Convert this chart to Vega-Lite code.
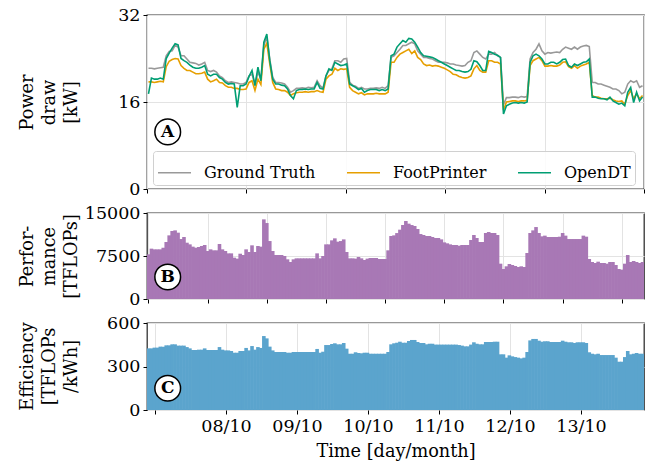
{
  "$schema": "https://vega.github.io/schema/vega-lite/v6.json",
  "background": "white",
  "padding": {"left": 17, "top": 5, "right": 5, "bottom": 5},
  "spacing": 24,
  "bounds": "flush",
  "config": {
    "font": "DejaVu Serif",
    "view": {"stroke": "#333333", "strokeWidth": 1.3},
    "axis": {
      "labelFont": "DejaVu Serif", "labelFontSize": 17.5, "labelColor": "#000000",
      "titleFont": "DejaVu Serif", "titleFontSize": 17.7, "titleFontWeight": "normal", "titleColor": "#000000",
      "tickColor": "#000000", "tickSize": 4, "domain": false,
      "gridColor": "#e3e3e3", "gridWidth": 1, "labelPadding": 3
    },
    "axisY": {"titleAngle": -90, "titleAlign": "center", "titleBaseline": "alphabetic", "titleX": -115, "titleLineHeight": 22}
  },
  "datasets": {
    "hourly": [
      {"h":0,"gt":22.2,"fp":19.7,"od":17.5,"perf":7790,"eff":425},
      {"h":1,"gt":22.2,"fp":19.7,"od":20.4,"perf":8780,"eff":425},
      {"h":2,"gt":22.1,"fp":19.6,"od":20.2,"perf":8660,"eff":430},
      {"h":3,"gt":22.2,"fp":19.7,"od":20.2,"perf":8660,"eff":430},
      {"h":4,"gt":22.3,"fp":19.8,"od":20.4,"perf":8660,"eff":437},
      {"h":5,"gt":22.4,"fp":19.7,"od":20.2,"perf":8950,"eff":437},
      {"h":6,"gt":24.5,"fp":22.5,"od":24.0,"perf":9940,"eff":446},
      {"h":7,"gt":25.3,"fp":23.5,"od":25.0,"perf":11100,"eff":446},
      {"h":8,"gt":25.4,"fp":23.8,"od":25.9,"perf":11860,"eff":453},
      {"h":9,"gt":26.4,"fp":24.0,"od":26.7,"perf":11970,"eff":453},
      {"h":10,"gt":26.1,"fp":23.9,"od":26.5,"perf":11570,"eff":444},
      {"h":11,"gt":24.5,"fp":22.7,"od":24.0,"perf":10460,"eff":444},
      {"h":12,"gt":24.5,"fp":22.2,"od":23.6,"perf":10810,"eff":444},
      {"h":13,"gt":23.9,"fp":21.8,"od":23.3,"perf":9820,"eff":434},
      {"h":14,"gt":23.3,"fp":21.8,"od":22.8,"perf":9530,"eff":425},
      {"h":15,"gt":23.2,"fp":21.5,"od":22.4,"perf":9130,"eff":414},
      {"h":16,"gt":23.1,"fp":21.2,"od":22.2,"perf":8950,"eff":414},
      {"h":17,"gt":22.8,"fp":21.2,"od":22.2,"perf":9070,"eff":416},
      {"h":18,"gt":23.0,"fp":21.3,"od":22.4,"perf":9240,"eff":416},
      {"h":19,"gt":23.3,"fp":21.5,"od":22.7,"perf":9420,"eff":425},
      {"h":20,"gt":21.8,"fp":20.2,"od":21.1,"perf":8370,"eff":414},
      {"h":21,"gt":21.6,"fp":19.7,"od":20.8,"perf":8660,"eff":414},
      {"h":22,"gt":21.8,"fp":19.9,"od":21.1,"perf":8490,"eff":414},
      {"h":23,"gt":21.5,"fp":20.2,"od":21.1,"perf":8490,"eff":414},
      {"h":24,"gt":20.8,"fp":19.6,"od":20.5,"perf":9590,"eff":434},
      {"h":25,"gt":20.5,"fp":19.5,"od":20.2,"perf":8660,"eff":416},
      {"h":26,"gt":19.9,"fp":19.0,"od":19.6,"perf":8370,"eff":411},
      {"h":27,"gt":19.6,"fp":18.7,"od":19.3,"perf":7960,"eff":411},
      {"h":28,"gt":19.7,"fp":18.7,"od":19.4,"perf":7960,"eff":407},
      {"h":29,"gt":19.6,"fp":18.5,"od":19.3,"perf":7210,"eff":395},
      {"h":30,"gt":19.5,"fp":18.5,"od":15.0,"perf":7040,"eff":395},
      {"h":31,"gt":19.3,"fp":18.3,"od":19.0,"perf":7900,"eff":407},
      {"h":32,"gt":19.3,"fp":18.3,"od":19.0,"perf":7670,"eff":407},
      {"h":33,"gt":19.6,"fp":18.4,"od":19.3,"perf":8660,"eff":428},
      {"h":34,"gt":20.8,"fp":19.6,"od":20.7,"perf":8200,"eff":411},
      {"h":35,"gt":21.1,"fp":19.9,"od":21.8,"perf":9360,"eff":441},
      {"h":36,"gt":19.3,"fp":18.1,"od":19.0,"perf":8200,"eff":416},
      {"h":37,"gt":21.5,"fp":20.2,"od":22.4,"perf":9240,"eff":434},
      {"h":38,"gt":20.2,"fp":19.2,"od":19.9,"perf":9130,"eff":428},
      {"h":39,"gt":26.4,"fp":25.7,"od":27.0,"perf":13890,"eff":510},
      {"h":40,"gt":28.0,"fp":26.8,"od":28.5,"perf":13250,"eff":494},
      {"h":41,"gt":23.9,"fp":23.0,"od":23.6,"perf":10110,"eff":437},
      {"h":42,"gt":20.5,"fp":19.6,"od":20.2,"perf":8370,"eff":411},
      {"h":43,"gt":19.6,"fp":18.4,"od":19.3,"perf":7670,"eff":400},
      {"h":44,"gt":19.6,"fp":18.3,"od":19.3,"perf":7670,"eff":400},
      {"h":45,"gt":19.5,"fp":18.1,"od":19.1,"perf":7670,"eff":400},
      {"h":46,"gt":19.3,"fp":18.1,"od":19.0,"perf":7500,"eff":400},
      {"h":47,"gt":18.7,"fp":17.8,"od":18.4,"perf":6920,"eff":395},
      {"h":48,"gt":17.8,"fp":17.2,"od":17.2,"perf":6450,"eff":395},
      {"h":49,"gt":18.1,"fp":17.5,"od":16.6,"perf":6920,"eff":400},
      {"h":50,"gt":18.5,"fp":17.7,"od":18.1,"perf":7090,"eff":400},
      {"h":51,"gt":18.5,"fp":17.8,"od":18.3,"perf":7090,"eff":400},
      {"h":52,"gt":18.6,"fp":17.8,"od":18.3,"perf":7090,"eff":400},
      {"h":53,"gt":18.5,"fp":17.9,"od":18.4,"perf":7090,"eff":400},
      {"h":54,"gt":18.7,"fp":17.8,"od":18.3,"perf":7090,"eff":400},
      {"h":55,"gt":18.6,"fp":17.9,"od":18.4,"perf":7090,"eff":400},
      {"h":56,"gt":18.7,"fp":17.9,"od":18.4,"perf":7090,"eff":400},
      {"h":57,"gt":19.9,"fp":18.1,"od":19.6,"perf":7960,"eff":421},
      {"h":58,"gt":19.0,"fp":17.9,"od":18.5,"perf":7090,"eff":395},
      {"h":59,"gt":18.5,"fp":17.8,"od":18.4,"perf":7500,"eff":402},
      {"h":60,"gt":20.8,"fp":20.2,"od":20.8,"perf":9530,"eff":448},
      {"h":61,"gt":21.8,"fp":20.8,"od":22.1,"perf":9530,"eff":448},
      {"h":62,"gt":22.1,"fp":21.1,"od":21.8,"perf":10230,"eff":455},
      {"h":63,"gt":23.6,"fp":22.2,"od":23.3,"perf":10580,"eff":460},
      {"h":64,"gt":23.6,"fp":21.8,"od":23.0,"perf":10000,"eff":453},
      {"h":65,"gt":23.3,"fp":22.1,"od":22.7,"perf":10110,"eff":453},
      {"h":66,"gt":23.9,"fp":22.0,"od":22.8,"perf":10400,"eff":462},
      {"h":67,"gt":24.0,"fp":22.1,"od":23.0,"perf":8200,"eff":423},
      {"h":68,"gt":19.6,"fp":18.7,"od":19.3,"perf":7090,"eff":388},
      {"h":69,"gt":19.1,"fp":18.1,"od":19.0,"perf":7090,"eff":388},
      {"h":70,"gt":18.9,"fp":17.8,"od":18.7,"perf":7040,"eff":398},
      {"h":71,"gt":18.5,"fp":17.5,"od":18.3,"perf":7330,"eff":393},
      {"h":72,"gt":18.7,"fp":17.7,"od":18.5,"perf":7090,"eff":391},
      {"h":73,"gt":18.4,"fp":17.3,"od":17.8,"perf":6800,"eff":395},
      {"h":74,"gt":18.4,"fp":17.5,"od":18.1,"perf":7040,"eff":395},
      {"h":75,"gt":18.5,"fp":17.5,"od":18.3,"perf":7150,"eff":388},
      {"h":76,"gt":18.5,"fp":17.5,"od":18.3,"perf":7150,"eff":388},
      {"h":77,"gt":18.6,"fp":17.6,"od":18.3,"perf":7150,"eff":388},
      {"h":78,"gt":18.5,"fp":17.5,"od":18.1,"perf":6980,"eff":388},
      {"h":79,"gt":18.7,"fp":17.5,"od":18.3,"perf":6980,"eff":388},
      {"h":80,"gt":18.5,"fp":17.5,"od":18.1,"perf":6980,"eff":388},
      {"h":81,"gt":19.0,"fp":17.8,"od":18.4,"perf":8490,"eff":400},
      {"h":82,"gt":24.2,"fp":23.3,"od":24.5,"perf":10990,"eff":453},
      {"h":83,"gt":24.5,"fp":23.3,"od":24.8,"perf":11100,"eff":460},
      {"h":84,"gt":25.1,"fp":24.2,"od":26.1,"perf":11500,"eff":464},
      {"h":85,"gt":25.7,"fp":24.8,"od":26.7,"perf":12090,"eff":471},
      {"h":86,"gt":26.4,"fp":25.1,"od":27.3,"perf":12900,"eff":464},
      {"h":87,"gt":26.4,"fp":25.4,"od":27.0,"perf":13600,"eff":464},
      {"h":88,"gt":26.7,"fp":25.7,"od":27.7,"perf":13140,"eff":476},
      {"h":89,"gt":27.0,"fp":24.9,"od":27.6,"perf":12900,"eff":483},
      {"h":90,"gt":26.7,"fp":25.4,"od":27.0,"perf":12730,"eff":483},
      {"h":91,"gt":25.4,"fp":24.2,"od":26.1,"perf":12210,"eff":469},
      {"h":92,"gt":24.8,"fp":23.8,"od":25.1,"perf":11330,"eff":462},
      {"h":93,"gt":24.2,"fp":23.0,"od":24.5,"perf":11160,"eff":462},
      {"h":94,"gt":24.2,"fp":22.7,"od":24.4,"perf":10990,"eff":453},
      {"h":95,"gt":24.0,"fp":22.8,"od":24.3,"perf":10990,"eff":457},
      {"h":96,"gt":23.9,"fp":22.6,"od":24.2,"perf":10810,"eff":457},
      {"h":97,"gt":23.6,"fp":22.7,"od":23.9,"perf":10640,"eff":451},
      {"h":98,"gt":23.3,"fp":22.6,"od":23.6,"perf":10640,"eff":451},
      {"h":99,"gt":23.3,"fp":22.4,"od":23.3,"perf":10400,"eff":451},
      {"h":100,"gt":23.3,"fp":22.2,"od":23.0,"perf":9880,"eff":451},
      {"h":101,"gt":23.2,"fp":21.9,"od":22.7,"perf":9710,"eff":451},
      {"h":102,"gt":23.0,"fp":21.6,"od":22.4,"perf":9530,"eff":451},
      {"h":103,"gt":23.0,"fp":21.1,"od":22.1,"perf":9420,"eff":451},
      {"h":104,"gt":22.8,"fp":21.0,"od":21.8,"perf":9420,"eff":451},
      {"h":105,"gt":22.7,"fp":20.7,"od":21.8,"perf":9300,"eff":448},
      {"h":106,"gt":22.6,"fp":20.5,"od":21.6,"perf":9420,"eff":444},
      {"h":107,"gt":22.7,"fp":20.4,"od":21.5,"perf":9420,"eff":439},
      {"h":108,"gt":23.3,"fp":20.5,"od":21.6,"perf":9420,"eff":439},
      {"h":109,"gt":23.6,"fp":20.8,"od":22.0,"perf":10290,"eff":451},
      {"h":110,"gt":25.1,"fp":22.1,"od":23.6,"perf":11160,"eff":467},
      {"h":111,"gt":25.4,"fp":22.7,"od":23.4,"perf":10640,"eff":457},
      {"h":112,"gt":24.8,"fp":21.8,"od":22.7,"perf":9940,"eff":453},
      {"h":113,"gt":24.2,"fp":21.5,"od":21.8,"perf":9940,"eff":453},
      {"h":114,"gt":23.9,"fp":21.5,"od":21.8,"perf":11510,"eff":469},
      {"h":115,"gt":24.8,"fp":23.6,"od":25.3,"perf":11680,"eff":469},
      {"h":116,"gt":24.8,"fp":23.6,"od":25.1,"perf":11510,"eff":469},
      {"h":117,"gt":25.1,"fp":23.3,"od":24.8,"perf":11510,"eff":471},
      {"h":118,"gt":24.5,"fp":23.3,"od":24.6,"perf":11160,"eff":471},
      {"h":119,"gt":24.2,"fp":23.0,"od":24.2,"perf":6160,"eff":384},
      {"h":120,"gt":15.5,"fp":14.5,"od":13.8,"perf":5230,"eff":384},
      {"h":121,"gt":16.8,"fp":16.0,"od":15.3,"perf":5700,"eff":361},
      {"h":122,"gt":16.8,"fp":16.1,"od":15.6,"perf":6110,"eff":377},
      {"h":123,"gt":16.9,"fp":16.2,"od":15.8,"perf":5930,"eff":370},
      {"h":124,"gt":16.9,"fp":16.2,"od":15.9,"perf":5760,"eff":365},
      {"h":125,"gt":16.8,"fp":16.1,"od":15.8,"perf":5580,"eff":361},
      {"h":126,"gt":17.0,"fp":16.2,"od":15.9,"perf":5700,"eff":356},
      {"h":127,"gt":16.9,"fp":16.2,"od":15.8,"perf":5580,"eff":361},
      {"h":128,"gt":17.0,"fp":16.3,"od":16.0,"perf":8020,"eff":400},
      {"h":129,"gt":23.9,"fp":22.7,"od":23.3,"perf":11510,"eff":480},
      {"h":130,"gt":25.1,"fp":23.6,"od":24.5,"perf":11970,"eff":490},
      {"h":131,"gt":25.7,"fp":23.9,"od":24.8,"perf":12550,"eff":490},
      {"h":132,"gt":26.7,"fp":24.2,"od":24.5,"perf":11510,"eff":478},
      {"h":133,"gt":25.4,"fp":23.6,"od":23.9,"perf":10930,"eff":471},
      {"h":134,"gt":24.8,"fp":22.6,"od":23.0,"perf":11050,"eff":474},
      {"h":135,"gt":25.1,"fp":22.6,"od":23.0,"perf":10810,"eff":474},
      {"h":136,"gt":25.0,"fp":22.7,"od":23.3,"perf":10810,"eff":469},
      {"h":137,"gt":25.1,"fp":22.6,"od":23.3,"perf":10810,"eff":469},
      {"h":138,"gt":25.2,"fp":22.6,"od":23.0,"perf":10810,"eff":469},
      {"h":139,"gt":25.1,"fp":22.8,"od":23.3,"perf":10870,"eff":469},
      {"h":140,"gt":25.7,"fp":23.3,"od":23.8,"perf":11510,"eff":478},
      {"h":141,"gt":26.1,"fp":23.4,"od":23.9,"perf":11050,"eff":471},
      {"h":142,"gt":25.9,"fp":22.5,"od":22.7,"perf":10460,"eff":467},
      {"h":143,"gt":25.7,"fp":22.2,"od":22.4,"perf":10460,"eff":467},
      {"h":144,"gt":26.1,"fp":22.7,"od":23.0,"perf":10460,"eff":462},
      {"h":145,"gt":25.7,"fp":22.2,"od":22.7,"perf":10460,"eff":467},
      {"h":146,"gt":26.1,"fp":22.6,"od":23.0,"perf":10460,"eff":467},
      {"h":147,"gt":26.3,"fp":22.8,"od":23.3,"perf":11050,"eff":467},
      {"h":148,"gt":26.4,"fp":23.0,"od":23.4,"perf":10870,"eff":462},
      {"h":149,"gt":26.2,"fp":23.3,"od":23.9,"perf":6980,"eff":398},
      {"h":150,"gt":19.6,"fp":17.2,"od":16.9,"perf":6450,"eff":388},
      {"h":151,"gt":19.6,"fp":16.9,"od":16.9,"perf":6280,"eff":384},
      {"h":152,"gt":19.3,"fp":16.9,"od":16.7,"perf":6510,"eff":388},
      {"h":153,"gt":19.3,"fp":16.7,"od":16.6,"perf":6280,"eff":379},
      {"h":154,"gt":19.1,"fp":16.6,"od":16.6,"perf":6280,"eff":379},
      {"h":155,"gt":18.9,"fp":16.6,"od":16.4,"perf":6160,"eff":379},
      {"h":156,"gt":18.7,"fp":16.7,"od":16.9,"perf":6450,"eff":379},
      {"h":157,"gt":18.4,"fp":16.4,"od":16.2,"perf":6450,"eff":379},
      {"h":158,"gt":18.4,"fp":16.2,"od":15.9,"perf":5930,"eff":361},
      {"h":159,"gt":18.1,"fp":16.1,"od":15.6,"perf":5230,"eff":333},
      {"h":160,"gt":17.5,"fp":16.2,"od":15.8,"perf":5120,"eff":333},
      {"h":161,"gt":17.8,"fp":15.6,"od":15.3,"perf":6160,"eff":365},
      {"h":162,"gt":19.3,"fp":17.2,"od":17.8,"perf":7670,"eff":407},
      {"h":163,"gt":19.9,"fp":18.1,"od":18.7,"perf":6450,"eff":384},
      {"h":164,"gt":19.6,"fp":16.6,"od":15.9,"perf":6630,"eff":388},
      {"h":165,"gt":19.9,"fp":17.5,"od":17.8,"perf":6450,"eff":393},
      {"h":166,"gt":18.7,"fp":16.6,"od":16.2,"perf":6280,"eff":388},
      {"h":167,"gt":19.0,"fp":17.2,"od":16.9,"perf":6450,"eff":388}
    ]
  },
  "vconcat": [
    {
      "width": 497,
      "height": 174,
      "layer": [
        {
          "data": {"name": "hourly"},
          "transform": [{"fold": ["gt", "fp", "od"], "as": ["series", "power"]}],
          "mark": {"type": "line", "strokeWidth": 1.6, "clip": true},
          "encoding": {
            "x": {"field": "h", "type": "quantitative",
              "scale": {"domain": [-0.5, 167.5], "nice": false, "zero": false, "padding": 0},
              "axis": {"values": [-0.5, 33.1, 66.7, 100.3, 133.9, 167.5], "labels": false, "title": null}},
            "y": {"field": "power", "type": "quantitative",
              "scale": {"domain": [0, 32], "nice": false},
              "axis": {"values": [0, 16, 32], "title": ["Power", "draw", "[kW]"], "titleY": 87, "titleLineHeight": 22}},
            "color": {"field": "series", "type": "nominal",
              "scale": {"domain": ["gt", "fp", "od"], "range": ["#999999", "#E69F00", "#009E73"]},
              "legend": {
                "orient": "none", "legendX": 6, "legendY": 136, "direction": "horizontal", "columns": 3,
                "title": null, "symbolType": "stroke", "symbolSize": 1089, "symbolStrokeWidth": 1.6,
                "labelFont": "DejaVu Serif", "labelFontSize": 16, "labelColor": "#000000", "labelOffset": 12,
                "columnPadding": 27, "padding": 4, "strokeColor": "#d0d0d0", "fillColor": "rgba(255,255,255,0.85)",
                "cornerRadius": 3,
                "labelExpr": "datum.label == 'gt' ? 'Ground Truth' : datum.label == 'fp' ? 'FootPrinter' : 'OpenDT'"
              }}
          }
        },
        {
          "data": {"values": [{"h": 6.5, "power": 10.5, "lab": "A"}]},
          "mark": {"type": "point", "shape": "circle", "filled": true, "fill": "white", "stroke": "black", "strokeWidth": 1.5, "size": 660, "opacity": 1},
          "encoding": {"x": {"field": "h", "type": "quantitative"}, "y": {"field": "power", "type": "quantitative"}}
        },
        {
          "data": {"values": [{"h": 6.5, "power": 10.5, "lab": "A"}]},
          "mark": {"type": "text", "font": "DejaVu Serif", "fontWeight": "bold", "fontSize": 17, "baseline": "middle", "align": "center", "color": "black"},
          "encoding": {"x": {"field": "h", "type": "quantitative"}, "y": {"field": "power", "type": "quantitative"}, "text": {"field": "lab"}}
        }
      ]
    },
    {
      "width": 497,
      "height": 86,
      "layer": [
        {
          "data": {"name": "hourly"},
          "mark": {"type": "bar", "width": 3.6, "color": "#a878b5", "clip": true},
          "encoding": {
            "x": {"field": "h", "type": "quantitative",
              "scale": {"domain": [-0.5, 167.5], "nice": false, "zero": false, "padding": 0},
              "axis": {"values": [0, 20, 40, 60, 80, 100, 120, 140, 160], "labels": false, "title": null}},
            "y": {"field": "perf", "type": "quantitative",
              "scale": {"domain": [0, 15000], "nice": false},
              "axis": {"values": [0, 7500, 15000], "format": "d", "title": ["Perfor-", "mance", "[TFLOPs]"], "titleY": 43, "titleLineHeight": 22}}
          }
        },
        {
          "data": {"values": [{"h": 6.5, "perf": 3840, "lab": "B"}]},
          "mark": {"type": "point", "shape": "circle", "filled": true, "fill": "white", "stroke": "black", "strokeWidth": 1.5, "size": 660, "opacity": 1},
          "encoding": {"x": {"field": "h", "type": "quantitative"}, "y": {"field": "perf", "type": "quantitative"}}
        },
        {
          "data": {"values": [{"h": 6.5, "perf": 3840, "lab": "B"}]},
          "mark": {"type": "text", "font": "DejaVu Serif", "fontWeight": "bold", "fontSize": 17, "baseline": "middle", "align": "center", "color": "black"},
          "encoding": {"x": {"field": "h", "type": "quantitative"}, "y": {"field": "perf", "type": "quantitative"}, "text": {"field": "lab"}}
        }
      ]
    },
    {
      "width": 497,
      "height": 87,
      "layer": [
        {
          "data": {"name": "hourly"},
          "mark": {"type": "bar", "width": 3.6, "color": "#5ba4cd", "clip": true},
          "encoding": {
            "x": {"field": "h", "type": "quantitative",
              "scale": {"domain": [-0.5, 167.5], "nice": false, "zero": false, "padding": 0},
              "axis": {"values": [2.2, 26.2, 50.2, 74.2, 98.2, 122.2, 146.2],
                "labelExpr": "['', '08/10', '09/10', '10/10', '11/10', '12/10', '13/10'][round((datum.value - 2.2) / 24)]",
                "title": "Time [day/month]", "titlePadding": 8}},
            "y": {"field": "eff", "type": "quantitative",
              "scale": {"domain": [0, 600], "nice": false},
              "axis": {"values": [0, 300, 600], "title": ["Efficiency", "[TFLOPs", "/kWh]"], "titleY": 43, "titleLineHeight": 22}}
          }
        },
        {
          "data": {"values": [{"h": 6.5, "eff": 150, "lab": "C"}]},
          "mark": {"type": "point", "shape": "circle", "filled": true, "fill": "white", "stroke": "black", "strokeWidth": 1.5, "size": 660, "opacity": 1},
          "encoding": {"x": {"field": "h", "type": "quantitative"}, "y": {"field": "eff", "type": "quantitative"}}
        },
        {
          "data": {"values": [{"h": 6.5, "eff": 150, "lab": "C"}]},
          "mark": {"type": "text", "font": "DejaVu Serif", "fontWeight": "bold", "fontSize": 17, "baseline": "middle", "align": "center", "color": "black"},
          "encoding": {"x": {"field": "h", "type": "quantitative"}, "y": {"field": "eff", "type": "quantitative"}, "text": {"field": "lab"}}
        }
      ]
    }
  ]
}
